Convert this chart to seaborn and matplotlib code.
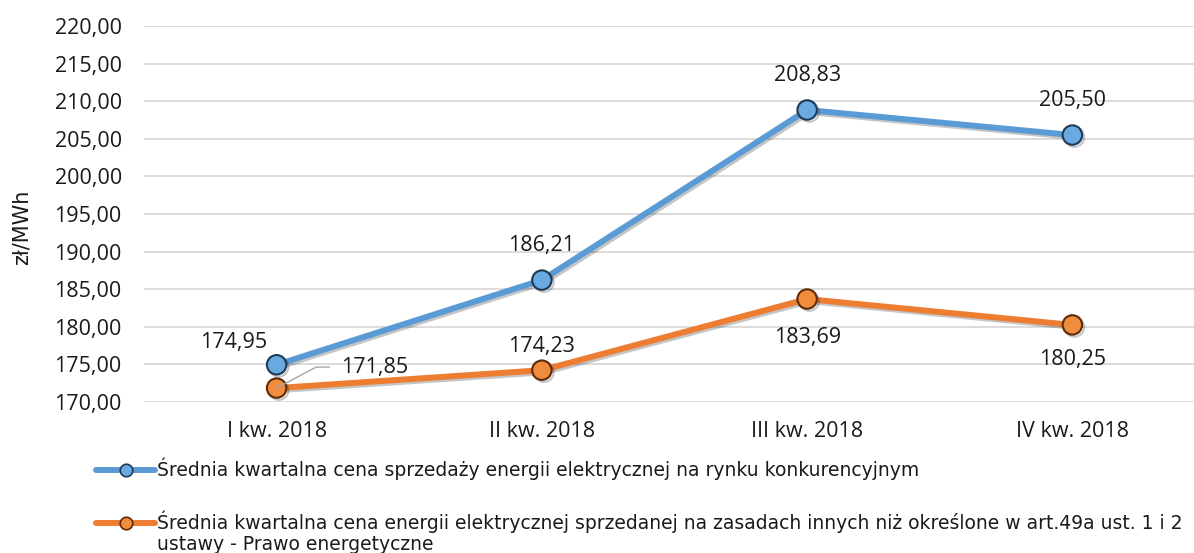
import matplotlib
matplotlib.use("Agg")
import matplotlib.pyplot as plt
import matplotlib.patheffects as pe
from matplotlib.lines import Line2D
from matplotlib.ticker import FuncFormatter
import pandas as pd
import seaborn as sns

# Data
quarters = ["I kw. 2018", "II kw. 2018", "III kw. 2018", "IV kw. 2018"]
competitive = [174.95, 186.21, 208.83, 205.50]
other_terms = [171.85, 174.23, 183.69, 180.25]
series_names = [
    "Średnia kwartalna cena sprzedaży energii elektrycznej na rynku konkurencyjnym",
    "Średnia kwartalna cena energii elektrycznej sprzedanej na zasadach innych niż określone w art.49a ust. 1 i 2",
]
series_wrap = "ustawy - Prawo energetyczne"
y_ticks = list(range(170, 221, 5))
y_title = "zł/MWh"


def pl(v):
    return f"{v:.2f}".replace(".", ",")


df = pd.DataFrame({
    "kwartal": quarters * 2,
    "cena": competitive + other_terms,
    "seria": [series_names[0]] * 4 + [series_names[1]] * 4,
})

sns.set_theme(style="white")
plt.rcParams["font.family"] = ["Open Sans", "DejaVu Sans"]

W, H = 1194, 553
fig = plt.figure(figsize=(W / 100, H / 100), dpi=100)
ax = fig.add_axes([144 / W, 1 - 402 / H, (1205 - 144) / W, (402 - 26) / H])

blue, orange = "#5B9BD5", "#ED7D31"
styles = [
    (series_names[0], blue, "#6AAAE2", "#1E3A56"),
    (series_names[1], orange, "#F08C3E", "#5E2A08"),
]
shadow = [pe.SimpleLineShadow(offset=(1.5, -1.5), alpha=0.25), pe.Normal()]

for name, col, face, edge in styles:
    sub = df[df["seria"] == name]
    sns.lineplot(
        data=sub, x="kwartal", y="cena", ax=ax, sort=False, legend=False,
        color=col, lw=4.3, marker="o", markersize=14,
        markerfacecolor=face, markeredgecolor=edge, markeredgewidth=1.5,
        path_effects=shadow, zorder=3,
    )

# data labels (offsets in pixels)
blue_off = [(-43, 22), (0, 35), (0, 34), (0, 35)]
orange_off = [(98, 21), (0, 24), (0, -38), (0, -35)]
lab_font = dict(fontsize=15.5, color="#1a1a1a", ha="center", va="center")

for i, (v, off) in enumerate(zip(competitive, blue_off)):
    ax.annotate(pl(v), (i, v), xytext=off, textcoords="offset pixels", **lab_font)

for i, (v, off) in enumerate(zip(other_terms, orange_off)):
    if i == 0:
        ax.annotate(
            pl(v), (i, v), xytext=off, textcoords="offset pixels", **lab_font,
            arrowprops=dict(arrowstyle="-", color="#A6A6A6", lw=1,
                            relpos=(0, 0.5), shrinkA=6, shrinkB=0,
                            connectionstyle="angle,angleA=0,angleB=28,rad=0"),
            zorder=5,
        )
    else:
        ax.annotate(pl(v), (i, v), xytext=off, textcoords="offset pixels", **lab_font)

ax.set_xlim(-0.5, 3.5)
ax.set_ylim(170, 220)
ax.set_yticks(y_ticks)
ax.yaxis.set_major_formatter(FuncFormatter(lambda v, p: pl(v)))
ax.yaxis.grid(True, color="#D9D9D9", lw=1.3)
ax.xaxis.grid(False)
ax.set_axisbelow(True)
for s in ax.spines.values():
    s.set_visible(False)
ax.tick_params(axis="both", length=0, labelsize=15.5, labelcolor="#1a1a1a")
ax.tick_params(axis="x", pad=14)
ax.tick_params(axis="y", pad=16)
ax.set_xlabel("")
ax.set_ylabel("")

fig.text(22 / W, 1 - 227 / H, y_title, rotation=90, ha="center", va="center",
         fontsize=15, family="DejaVu Sans", color="#1a1a1a")

# legend, one entry per row
rows_y = [469, 522]
for (name, col, face, edge), ry in zip(styles, rows_y):
    h = Line2D([], [], color=col, lw=4.3, marker="o", markersize=9,
               markerfacecolor=face, markeredgecolor=edge, markeredgewidth=1.2)
    fig.legend([h], [name], loc="center left",
               bbox_to_anchor=(96 / W, 1 - ry / H), frameon=False,
               borderpad=0, borderaxespad=0, handlelength=3.15,
               handletextpad=0.08,
               prop=dict(family="DejaVu Sans", size=13.5),
               labelcolor="#1a1a1a")
fig.text(157 / W, 1 - 545 / H, series_wrap, ha="left", va="center",
         fontsize=13.5, family="DejaVu Sans", color="#1a1a1a")

fig.savefig("out.png", dpi=100)
